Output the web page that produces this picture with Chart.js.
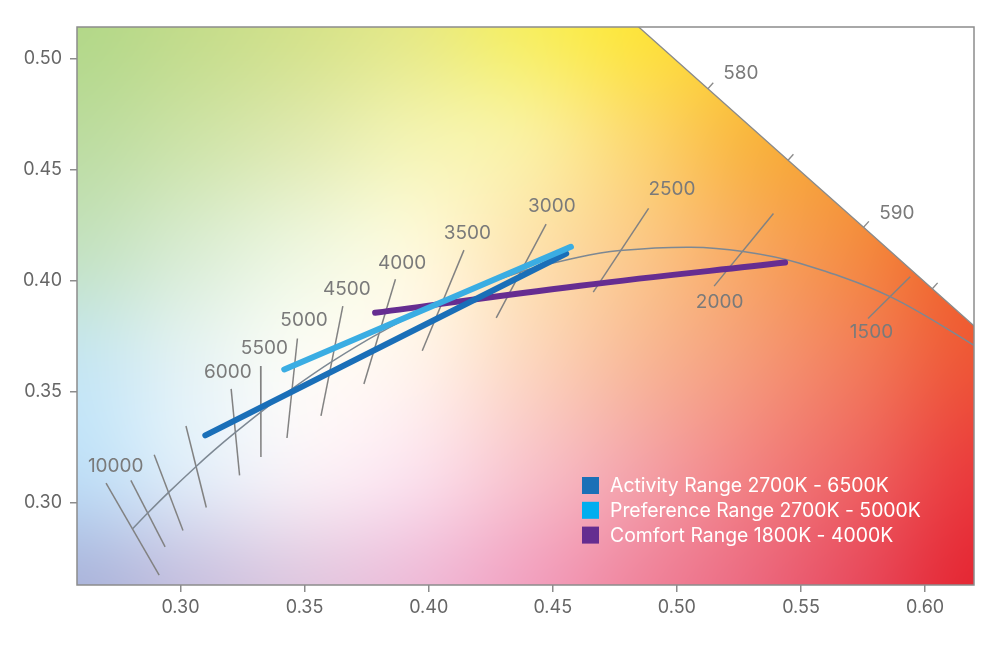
<!DOCTYPE html>
<html>
<head>
<meta charset="utf-8">
<script src="https://cdn.jsdelivr.net/npm/chart.js@4.4.1/dist/chart.umd.min.js"></script>
<style>
  html, body { margin: 0; padding: 0; background: #fff; }
  #wrap { width: 1000px; height: 649px; }
</style>
</head>
<body>
<div id="wrap"><canvas id="cie"></canvas></div>
<script>
// axis ticks
var xTicks = [0.30, 0.35, 0.40, 0.45, 0.50, 0.55, 0.60];
var yTicks = [0.30, 0.35, 0.40, 0.45, 0.50];

// Planckian locus (colour temperature, x, y)
var locusK = [10000, 9000, 8000, 7000, 6500, 6000, 5500, 5000, 4500, 4000, 3500, 3000, 2700, 2500, 2200, 2000, 1800, 1500, 1200];
var locusX = [0.2807, 0.2869, 0.2952, 0.3064, 0.3135, 0.3221, 0.3325, 0.3451, 0.3608, 0.3805, 0.4053, 0.4369, 0.4599, 0.4770, 0.5056, 0.5267, 0.5491, 0.5857, 0.6251];
var locusY = [0.2884, 0.2956, 0.3048, 0.3166, 0.3237, 0.3318, 0.3411, 0.3516, 0.3636, 0.3768, 0.3907, 0.4041, 0.4106, 0.4137, 0.4152, 0.4133, 0.4081, 0.3931, 0.3674];

// isotherm segments
var isoK      = [10000, 9000, 8000, 7000, 6000, 5500, 5000, 4500, 4000, 3500, 3000, 2500, 2000, 1500];
var isoX1     = [0.2700, 0.2800, 0.2894, 0.3022, 0.3204, 0.3323, 0.3471, 0.3654, 0.3866, 0.4142, 0.4473, 0.4886, 0.5389, 0.5940];
var isoY1     = [0.3090, 0.3102, 0.3218, 0.3347, 0.3514, 0.3617, 0.3741, 0.3887, 0.4008, 0.4139, 0.4256, 0.4327, 0.4304, 0.4019];
var isoX2     = [0.2914, 0.2938, 0.3010, 0.3104, 0.3238, 0.3324, 0.3429, 0.3566, 0.3739, 0.3974, 0.4272, 0.4663, 0.5150, 0.5770];
var isoY2     = [0.2675, 0.2803, 0.2876, 0.2980, 0.3125, 0.3207, 0.3293, 0.3393, 0.3536, 0.3686, 0.3834, 0.3950, 0.3977, 0.3831];
var isoLabels = ['10000', '', '', '', '6000', '5500', '5000', '4500', '4000', '3500', '3000', '2500', '2000', '1500'];
var isoLabelX = [0.2739, null, null, null, 0.3191, 0.3338, 0.3498, 0.3670, 0.3893, 0.4156, 0.4496, 0.4980, 0.5172, 0.5784];
var isoLabelY = [0.3167, null, null, null, 0.3591, 0.3699, 0.3821, 0.3962, 0.4082, 0.4217, 0.4337, 0.4412, 0.3902, 0.3768];

// spectral locus (nm)
var specNm = [575, 580, 585, 590, 595, 600];
var specX  = [0.4788, 0.5125, 0.5448, 0.5752, 0.6029, 0.6270];
var specY  = [0.5202, 0.4866, 0.4544, 0.4242, 0.3965, 0.3725];
var specTicked = [580, 585, 590, 595];
var specLabels = ['580', '590'];
var specLabelX = [0.5258, 0.5886];
var specLabelY = [0.4934, 0.4307];

// ranges
var activityX   = [0.3100, 0.4554];
var activityY   = [0.3305, 0.4124];
var preferenceX = [0.3418, 0.4573];
var preferenceY = [0.3602, 0.4154];
var comfortX    = [0.3784, 0.4610, 0.5436];
var comfortY    = [0.3857, 0.3979, 0.4083];

var legendNames  = ['Activity Range 2700K - 6500K', 'Preference Range 2700K - 5000K', 'Comfort Range 1800K - 4000K'];
var legendColors = ['#1b70b7', '#00aeef', '#652d90'];

// background colour anchors (rows top->bottom, cols left->right)
var bgGrid = [
  ['#b3d889', '#c3dc8b', '#d4e28b', '#e6e985', '#f6ee62', '#fde43c', '#fccb34', '#f8a52a', '#f28422'],
  ['#bcdca0', '#cde3a8', '#e0eab0', '#f3f3b2', '#faf0a0', '#fcd76e', '#f9b640', '#f59a30', '#f27a22'],
  ['#c4e2c2', '#d9ecd2', '#eef6de', '#fdf8da', '#fde3b0', '#fbc888', '#f8a860', '#f48a40', '#f06428'],
  ['#c6e6f0', '#e4f2f3', '#fbfbf5', '#fff3ea', '#fcd7c0', '#f8b898', '#f59a78', '#f27a58', '#ee5636'],
  ['#bfdef6', '#e0ecf8', '#f8f0f6', '#fbe1ec', '#f8c2cb', '#f4a2a8', '#f28282', '#ee6260', '#ea3c3c'],
  ['#acb6dc', '#c8c2e0', '#e0c8e0', '#eebcd8', '#f2a2c0', '#f0869e', '#ec6a80', '#e84a5c', '#e52834']
];

function pts(xs, ys) {
  return xs.map(function (x, i) { return { x: x, y: ys[i] }; });
}
function hexRgb(h) {
  return [parseInt(h.substr(1, 2), 16), parseInt(h.substr(3, 2), 16), parseInt(h.substr(5, 2), 16)];
}
function cr(p0, p1, p2, p3, t) {
  return p1 + 0.5 * t * (p2 - p0 + t * (2 * p0 - 5 * p1 + 4 * p2 - p3 + t * (3 * (p1 - p2) + p3 - p0)));
}

var bgCache = null;
function buildBg(w, h) {
  var rows = bgGrid.length, cols = bgGrid[0].length;
  var g = bgGrid.map(function (r) { return r.map(hexRgb); });
  var off = document.createElement('canvas');
  off.width = w; off.height = h;
  var octx = off.getContext('2d');
  var img = octx.createImageData(w, h);
  var d = img.data;
  var colv = new Float32Array(cols * 3);
  for (var py = 0; py < h; py++) {
    var v = py / (h - 1) * (rows - 1);
    var j = Math.min(Math.floor(v), rows - 2), fv = v - j;
    for (var c = 0; c < cols; c++) {
      for (var k = 0; k < 3; k++) {
        var a0 = g[Math.max(j - 1, 0)][c][k], a1 = g[j][c][k], a2 = g[j + 1][c][k], a3 = g[Math.min(j + 2, rows - 1)][c][k];
        colv[c * 3 + k] = cr(a0, a1, a2, a3, fv);
      }
    }
    for (var px = 0; px < w; px++) {
      var u = px / (w - 1) * (cols - 1);
      var i = Math.min(Math.floor(u), cols - 2), fu = u - i;
      var i0 = Math.max(i - 1, 0), i3 = Math.min(i + 2, cols - 1);
      var o = (py * w + px) * 4;
      for (var k2 = 0; k2 < 3; k2++) {
        var val = cr(colv[i0 * 3 + k2], colv[i * 3 + k2], colv[(i + 1) * 3 + k2], colv[i3 * 3 + k2], fu);
        d[o + k2] = val < 0 ? 0 : (val > 255 ? 255 : val);
      }
      d[o + 3] = 255;
    }
  }
  octx.putImageData(img, 0, 0);
  return off;
}

var backdrop = {
  id: 'backdrop',
  beforeDatasetsDraw: function (chart) {
    var a = chart.chartArea, ctx = chart.ctx;
    var w = Math.round(a.right - a.left), h = Math.round(a.bottom - a.top);
    if (!bgCache || bgCache.width !== w || bgCache.height !== h) bgCache = buildBg(w, h);
    ctx.save();
    ctx.drawImage(bgCache, a.left, a.top, a.right - a.left, a.bottom - a.top);
    ctx.restore();
  }
};

var overlay = {
  id: 'overlay',
  afterDatasetsDraw: function (chart) {
    var ctx = chart.ctx, a = chart.chartArea;
    var xs = chart.scales.x, ys = chart.scales.y;
    ctx.save();

    // wavelength ticks on the spectral locus
    ctx.strokeStyle = '#8a8a8a';
    ctx.lineWidth = 1.3;
    specTicked.forEach(function (nm) {
      var i = specNm.indexOf(nm);
      var px = xs.getPixelForValue(specX[i]), py = ys.getPixelForValue(specY[i]);
      var dx = xs.getPixelForValue(specX[i + 1]) - xs.getPixelForValue(specX[i - 1]);
      var dy = ys.getPixelForValue(specY[i + 1]) - ys.getPixelForValue(specY[i - 1]);
      var len = Math.sqrt(dx * dx + dy * dy);
      var nx = dy / len, ny = -dx / len;
      ctx.beginPath();
      ctx.moveTo(px, py);
      ctx.lineTo(px + nx * 8, py + ny * 8);
      ctx.stroke();
    });

    // labels
    ctx.fillStyle = '#7a7a7a';
    ctx.font = '19px Inter, sans-serif';
    ctx.textAlign = 'center';
    ctx.textBaseline = 'middle';
    isoLabels.forEach(function (t, i) {
      if (!t) return;
      ctx.fillText(t, xs.getPixelForValue(isoLabelX[i]), ys.getPixelForValue(isoLabelY[i]));
    });
    specLabels.forEach(function (t, i) {
      ctx.fillText(t, xs.getPixelForValue(specLabelX[i]), ys.getPixelForValue(specLabelY[i]));
    });

    // legend
    ctx.font = '19.4px Inter, sans-serif';
    ctx.textAlign = 'left';
    legendNames.forEach(function (name, i) {
      var cy = a.bottom - 99.5 + i * 24.8;
      ctx.fillStyle = legendColors[i];
      ctx.fillRect(a.right - 392, cy - 8.5, 17, 17);
      ctx.fillStyle = '#ffffff';
      ctx.fillText(name, a.right - 364, cy + 1);
    });

    // frame
    ctx.strokeStyle = '#8c8c8c';
    ctx.lineWidth = 1.5;
    ctx.strokeRect(a.left, a.top, a.right - a.left, a.bottom - a.top);
    ctx.restore();
  }
};

function seg(data, color, width) {
  return {
    data: data, showLine: true, pointRadius: 0, borderColor: color, borderWidth: width,
    backgroundColor: color, fill: false, tension: 0
  };
}

var datasets = [];
var pref = seg(pts(preferenceX, preferenceY), '#3aade3', 6); pref.borderCapStyle = 'round';
var act = seg(pts(activityX, activityY), '#1a6fb8', 6); act.borderCapStyle = 'round';
var com = seg(pts(comfortX, comfortY), '#662d91', 6); com.borderCapStyle = 'round'; com.tension = 0.4;
datasets.push(pref, act, com);
var loc = seg(pts(locusX, locusY), '#7d8893', 1.5); loc.tension = 0.35;
datasets.push(loc);
isoK.forEach(function (k, i) {
  datasets.push(seg([{ x: isoX1[i], y: isoY1[i] }, { x: isoX2[i], y: isoY2[i] }], '#828282', 1.5));
});
var spec = seg(pts(specX, specY), '#8a8a8a', 1.3);
spec.fill = 'end';
spec.backgroundColor = '#ffffff';
datasets.push(spec);

var tickFont = { family: 'Inter, sans-serif', size: 18 };

new Chart(document.getElementById('cie'), {
  type: 'scatter',
  data: { datasets: datasets },
  options: {
    responsive: true, maintainAspectRatio: false, animation: false,
    layout: { padding: { left: 0, top: 27, right: 26, bottom: 0 } },
    plugins: { legend: { display: false }, tooltip: { enabled: false } },
    scales: {
      x: {
        type: 'linear', min: 0.2583, max: 0.6197,
        afterBuildTicks: function (s) { s.ticks = xTicks.map(function (v) { return { value: v }; }); },
        afterFit: function (s) { s.height = 64; },
        ticks: { color: '#666', font: tickFont, padding: 5, maxRotation: 0, callback: function (v) { return v.toFixed(2); } },
        grid: { drawOnChartArea: false, tickLength: 7, color: '#8c8c8c', lineWidth: 1.5 },
        border: { display: false }
      },
      y: {
        type: 'linear', min: 0.2631, max: 0.5144,
        afterBuildTicks: function (s) { s.ticks = yTicks.map(function (v) { return { value: v }; }); },
        afterFit: function (s) { s.width = 77; },
        ticks: { color: '#666', font: tickFont, padding: 8, callback: function (v) { return v.toFixed(2); } },
        grid: { drawOnChartArea: false, tickLength: 7, color: '#8c8c8c', lineWidth: 1.5 },
        border: { display: false }
      }
    }
  },
  plugins: [backdrop, overlay]
});
</script>
</body>
</html>
